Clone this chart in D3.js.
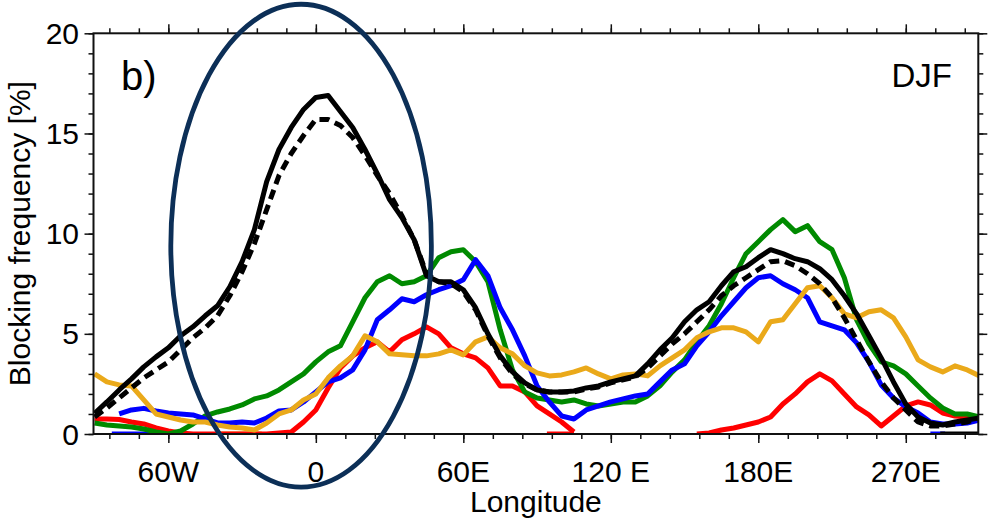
<!DOCTYPE html>
<html>
<head>
<meta charset="utf-8">
<script src="https://cdn.jsdelivr.net/npm/d3@7"></script>
<style>
  body { margin: 0; background: #fff; }
  svg { display: block; font-family: "Liberation Sans", Arial, Helvetica, sans-serif; }
</style>
</head>
<body>
<svg id="chart" width="988" height="527"></svg>
<script>
// longitude (deg, negative = west), 5 degree steps
var longitudes = [-90,-85,-80,-75,-70,-65,-60,-55,-50,-45,-40,-35,-30,-25,-20,-15,-10,-5,
    0,5,10,15,20,25,30,35,40,45,50,55,60,65,70,75,80,85,90,95,100,105,110,115,120,125,130,
    135,140,145,150,155,160,165,170,175,180,185,190,195,200,205,210,215,220,225,230,235,
    240,245,250,255,260,265,270];

// blocking frequency [%]
var blackSolid = [1.03,1.6,2.2,2.75,3.35,3.85,4.3,4.9,5.35,5.9,6.4,7.35,8.6,10.2,12.6,14.2,
    15.3,16.2,16.8,16.9,16.1,15.3,14.2,13.0,11.7,10.8,9.7,7.9,7.6,7.6,7.2,6.3,5.0,3.9,3.1,
    2.55,2.2,2.1,2.1,2.15,2.3,2.4,2.6,2.75,2.9,3.5,4.2,4.8,5.6,6.2,6.6,7.4,8.1,8.35,8.8,
    9.2,9.0,8.75,8.6,8.25,7.7,6.9,6.0,4.9,3.8,2.6,1.5,0.85,0.55,0.45,0.6,0.7,0.8];
var blackDashed = [0.85,1.3,1.8,2.3,2.8,3.2,3.6,4.2,4.8,5.3,5.9,6.9,8.1,9.5,11.2,12.9,14.0,
    14.9,15.7,15.7,15.4,14.8,13.9,12.9,12.0,10.9,9.7,8.0,7.6,7.5,7.1,6.2,4.9,3.8,3.0,2.5,
    2.2,2.1,2.1,2.1,2.25,2.35,2.55,2.7,2.85,3.3,3.9,4.5,5.0,5.6,6.2,6.9,7.4,7.8,8.2,8.6,
    8.65,8.4,8.0,7.5,6.8,5.8,4.7,3.6,2.6,1.8,1.2,0.6,0.4,0.4,0.5,0.6,0.8];
var green = [0.55,0.45,0.4,0.35,0.25,0.1,0.0,0.15,0.5,0.9,1.1,1.25,1.45,1.75,1.9,2.2,2.6,
    3.0,3.6,4.1,4.4,5.6,6.8,7.6,7.9,7.5,7.6,7.9,8.8,9.1,9.2,8.6,7.6,5.2,3.2,2.1,1.8,1.7,
    1.6,1.7,1.5,1.4,1.5,1.6,1.6,1.9,2.4,3.1,3.7,4.6,5.4,6.5,7.8,9.0,9.6,10.2,10.7,10.1,
    10.4,9.6,9.2,7.8,5.7,4.5,3.6,3.4,3.0,2.4,1.8,1.3,1.0,1.0,0.85];
var blue = [null,null,1.0,1.2,1.28,1.15,1.05,1.0,0.95,0.75,0.55,0.55,0.6,0.55,0.8,1.15,
    1.2,1.6,2.1,2.6,2.8,3.2,4.2,5.7,6.2,6.75,6.6,6.95,7.2,7.4,7.7,8.7,7.9,6.3,5.2,3.9,2.4,
    1.6,0.9,0.75,1.2,1.4,1.6,1.75,1.9,2.0,2.6,3.2,3.5,4.4,5.1,5.9,6.6,7.3,7.8,7.9,7.5,7.2,
    6.8,5.6,5.4,5.2,4.55,3.6,2.45,1.8,1.36,1.05,0.6,0.5,0.5,0.55,0.7];
var red = [0.75,0.75,0.72,0.6,0.5,0.3,0.15,0.05,0,0,0,0,0,0,0,0.05,0.1,0.6,1.2,2.3,3.3,
    3.9,4.3,4.6,4.1,4.7,5.0,5.35,5.0,4.3,4.0,3.8,3.3,2.4,2.4,2.1,1.4,1.0,0.6,0.1,null,null,
    null,null,null,null,null,null,null,0,0.05,0.2,0.3,0.45,0.6,0.85,1.5,2.0,2.6,3.0,2.65,
    2.0,1.35,0.95,0.4,0.9,1.4,1.6,1.45,1.05,0.9,0.85,0.8];
var gold = [3.0,2.6,2.45,2.4,1.7,1.0,0.85,0.7,0.6,0.6,0.45,0.35,0.3,0.2,0.55,1.0,1.2,1.7,
    2.0,2.8,3.4,3.9,4.9,4.6,4.0,3.95,3.9,3.9,4.0,4.2,3.95,4.6,4.85,4.3,4.0,3.4,3.05,2.9,
    2.95,3.1,3.3,3.0,2.75,2.95,3.0,2.9,3.4,3.8,4.2,4.8,5.1,5.3,5.3,5.1,4.6,5.6,5.7,6.5,
    7.3,7.4,6.8,6.0,5.8,6.1,6.2,5.8,4.85,3.7,3.35,3.1,3.4,3.2,2.9];

// short pieces lying on the zero line [lonFrom, lonTo]
var blueFloor = [[-83, -65], [250, 256]];
var redFloor = [[94, 105]];
var goldFloor = [[-40, -22]];
var blackFloor = [[254, 270]];

var xTicks = [-60, 0, 60, 120, 180, 240];
var xTickLabels = ["60W", "0", "60E", "120 E", "180E", "270E"];
var yTicks = [0, 5, 10, 15, 20];

// highlighted region: centre lon/value and half widths
var ellipseLon = [-6, 53];
var ellipseVal = [9.4, 12.05];

var svg = d3.select("#chart");
var plotL = 93.5, plotR = 978.3, plotT = 33.3, plotB = 434;

var x = d3.scaleLinear().domain([-90.45, 269.5]).range([plotL, plotR]);
var y = d3.scaleLinear().domain([0, 20]).range([plotB, plotT]);

svg.append("defs").append("clipPath").attr("id", "plotClip")
  .append("rect").attr("x", plotL).attr("y", plotT)
  .attr("width", plotR - plotL).attr("height", plotB - plotT);

var series = [
  { values: red, color: "#ff0000" },
  { values: green, color: "#008a00" },
  { values: blue, color: "#0000ff" },
  { values: gold, color: "#eaa91a" },
  { values: blackDashed, color: "#000", dash: "10,6" },
  { values: blackSolid, color: "#000" }
];
var floors = [
  { spans: blueFloor, color: "#0000ff" },
  { spans: redFloor, color: "#ff0000" },
  { spans: goldFloor, color: "#eaa91a" },
  { spans: blackFloor, color: "#000" }
];

var line = d3.line()
  .defined(function (d) { return d[1] !== null; })
  .x(function (d) { return x(d[0]); })
  .y(function (d) { return y(d[1]); });

var plot = svg.append("g").attr("clip-path", "url(#plotClip)");

floors.forEach(function (f) {
  f.spans.forEach(function (s) {
    plot.append("path")
      .attr("d", line([[s[0], 0], [s[1], 0]]))
      .attr("fill", "none").attr("stroke", f.color).attr("stroke-width", 5);
  });
});

series.forEach(function (s) {
  plot.append("path")
    .datum(longitudes.map(function (lon, i) { return [lon, s.values[i]]; }))
    .attr("d", line)
    .attr("fill", "none")
    .attr("stroke", s.color)
    .attr("stroke-width", 5)
    .attr("stroke-linejoin", "round")
    .attr("stroke-dasharray", s.dash || null);
});

// axes on all four sides, ticks pointing outward
var minorX = d3.range(-84, 270, 12), minorY = d3.range(0, 21, 1);
function tickSet(axis, ticks, len) {
  return axis.tickValues(ticks).tickSize(len).tickSizeOuter(0).tickFormat("");
}
function styleAxis(g) {
  g.select(".domain").remove();
  g.selectAll("line").attr("stroke", "#111").attr("stroke-width", 1.5);
}
function drawAxis(make, scale, transform) {
  svg.append("g").attr("transform", transform)
    .call(tickSet(make(scale), scale === x ? minorX : minorY, 5)).call(styleAxis);
  svg.append("g").attr("transform", transform)
    .call(tickSet(make(scale), scale === x ? xTicks : yTicks, 9)).call(styleAxis);
}
drawAxis(d3.axisBottom, x, "translate(0," + plotB + ")");
drawAxis(d3.axisTop, x, "translate(0," + plotT + ")");
drawAxis(d3.axisLeft, y, "translate(" + plotL + ",0)");
drawAxis(d3.axisRight, y, "translate(" + plotR + ",0)");

svg.append("rect").attr("x", plotL).attr("y", plotT)
  .attr("width", plotR - plotL).attr("height", plotB - plotT)
  .attr("fill", "none").attr("stroke", "#111").attr("stroke-width", 2);

// tick labels
svg.selectAll(".xlab").data(xTicks).enter().append("text")
  .attr("x", function (d) { return x(d); }).attr("y", 482)
  .attr("text-anchor", "middle").attr("font-size", 30)
  .text(function (d, i) { return xTickLabels[i]; });
svg.selectAll(".ylab").data(yTicks).enter().append("text")
  .attr("x", 79).attr("y", function (d) { return y(d) + 10.5; })
  .attr("text-anchor", "end").attr("font-size", 30)
  .text(function (d) { return d; });

svg.append("text").attr("x", (plotL + plotR) / 2).attr("y", 512)
  .attr("text-anchor", "middle").attr("font-size", 30).text("Longitude");
svg.append("text")
  .attr("transform", "translate(30," + (plotT + plotB) / 2 + ") rotate(-90)")
  .attr("text-anchor", "middle").attr("font-size", 30).text("Blocking frequency [%]");

svg.append("text").attr("x", 121).attr("y", 90).attr("font-size", 40).text("b)");
svg.append("text").attr("x", 952).attr("y", 87).attr("text-anchor", "end")
  .attr("font-size", 33).text("DJF");

svg.append("ellipse")
  .attr("cx", x(ellipseLon[0])).attr("cy", y(ellipseVal[0]))
  .attr("rx", x(ellipseLon[0] + ellipseLon[1]) - x(ellipseLon[0]))
  .attr("ry", y(0) - y(ellipseVal[1]))
  .attr("fill", "none").attr("stroke", "#0c2f57").attr("stroke-width", 4.8);
</script>
</body>
</html>
